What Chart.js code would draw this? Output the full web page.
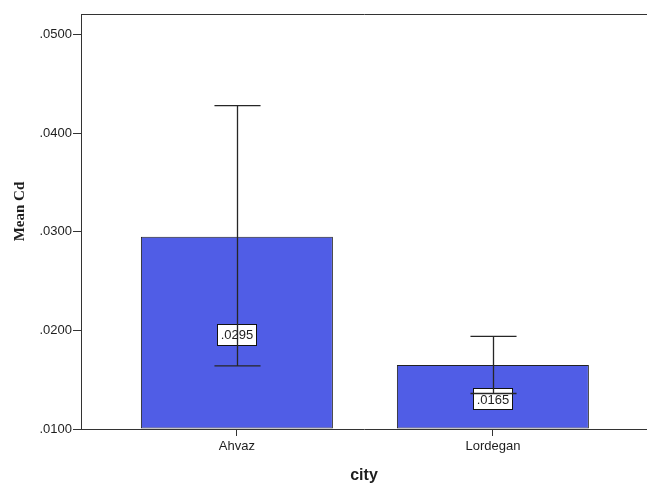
<!DOCTYPE html>
<html>
<head>
<meta charset="utf-8">
<script src="https://cdn.jsdelivr.net/npm/chart.js@4/dist/chart.umd.min.js"></script>
<style>
  html, body { margin: 0; padding: 0; background: #ffffff; }
  #wrap { width: 647px; height: 483px; position: relative; }
</style>
</head>
<body>
<div id="wrap"><canvas id="chart"></canvas></div>
<script>
// Mean Cd by city, with 95% CI error bars
const cities = ['Ahvaz', 'Lordegan'];
const meanCd = [0.0295, 0.0165];
const ciLow = [0.0164, 0.0136];
const ciHigh = [0.0428, 0.0194];
const yTickValues = [0.0100, 0.0200, 0.0300, 0.0400, 0.0500];
const yMin = 0.0100;
const yMax = 0.0521;

const axisColor = '#333333';
const textColor = '#1e1e1e';
const sansFont = '"Liberation Sans", Arial, sans-serif';

const fmt = v => v.toFixed(4).replace(/^0/, '');

// value labels in boxes at mid-bar, then error bars on top
const barDecor = {
  id: 'barDecor',
  afterDatasetsDraw(chart) {
    const ctx = chart.ctx;
    const yScale = chart.scales.y;
    const meta = chart.getDatasetMeta(0);
    const basePx = yScale.getPixelForValue(yScale.min);
    ctx.save();
    ctx.font = '13px ' + sansFont;
    ctx.textAlign = 'center';
    ctx.textBaseline = 'middle';
    meta.data.forEach((bar, i) => {
      const txt = fmt(meanCd[i]);
      const tw = ctx.measureText(txt).width;
      const cx = bar.x;
      const cy = (yScale.getPixelForValue(meanCd[i]) + basePx) / 2 + 2;
      const w = Math.round(tw + 6), h = 21;
      const bx = Math.round(cx - w / 2) + 0.5, by = Math.round(cy - h / 2) + 0.5;
      ctx.fillStyle = '#ffffff';
      ctx.fillRect(bx, by, w, h);
      ctx.strokeStyle = '#111111';
      ctx.lineWidth = 1;
      ctx.strokeRect(bx, by, w, h);
      ctx.fillStyle = textColor;
      ctx.fillText(txt, cx, cy + 1);
    });
    ctx.strokeStyle = '#262626';
    ctx.lineWidth = 1.3;
    meta.data.forEach((bar, i) => {
      const x = Math.round(bar.x) + 0.5;
      const hi = yScale.getPixelForValue(ciHigh[i]);
      const lo = yScale.getPixelForValue(ciLow[i]);
      const cap = bar.width * 0.12;
      ctx.beginPath();
      ctx.moveTo(x, hi); ctx.lineTo(x, lo);
      ctx.moveTo(x - cap, hi); ctx.lineTo(x + cap, hi);
      ctx.moveTo(x - cap, lo); ctx.lineTo(x + cap, lo);
      ctx.stroke();
    });
    ctx.restore();
  }
};

// rotated serif axis title for the value axis
const yTitle = {
  id: 'yTitle',
  afterDraw(chart) {
    const ctx = chart.ctx;
    const a = chart.chartArea;
    ctx.save();
    ctx.translate(20, (a.top + a.bottom) / 2 - 10);
    ctx.rotate(-Math.PI / 2);
    ctx.font = 'bold 15px "Liberation Serif", "Times New Roman", serif';
    ctx.fillStyle = textColor;
    ctx.textAlign = 'center';
    ctx.textBaseline = 'middle';
    ctx.fillText('Mean Cd', 0, 0);
    ctx.restore();
  }
};

new Chart(document.getElementById('chart'), {
  type: 'bar',
  data: {
    datasets: [{
      data: cities.map((c, i) => ({ x: i, y: meanCd[i] })),
      base: yMin,
      backgroundColor: '#505de6',
      borderColor: '#222222',
      borderWidth: 1,
      borderSkipped: false,
      barPercentage: 0.75,
      categoryPercentage: 1.0
    }]
  },
  options: {
    responsive: true,
    maintainAspectRatio: false,
    animation: false,
    events: [],
    layout: { padding: 0 },
    plugins: {
      legend: { display: false },
      tooltip: { enabled: false }
    },
    scales: {
      x: {
        type: 'linear',
        position: 'bottom',
        offset: false,
        min: -0.609,
        max: 1.602,
        afterBuildTicks: s => { s.ticks = cities.map((c, i) => ({ value: i })); },
        afterFit: s => { s.height = 54; },
        ticks: {
          callback: v => cities[v] ?? '',
          color: textColor,
          font: { family: sansFont, size: 13 },
          padding: 3,
          maxRotation: 0,
          autoSkip: false
        },
        grid: { offset: false, drawOnChartArea: false, tickLength: 7, color: axisColor, lineWidth: 1 },
        border: { color: axisColor, width: 1 },
        title: {
          display: true,
          text: 'city',
          color: textColor,
          font: { family: sansFont, size: 16, weight: 'bold' },
          padding: { top: 0, bottom: -2 }
        }
      },
      xTop: {
        type: 'linear',
        position: 'top',
        offset: false,
        afterFit: s => { s.height = 14; },
        ticks: { display: false },
        grid: { display: false },
        border: { color: axisColor, width: 1 }
      },
      y: {
        min: yMin,
        max: yMax,
        afterBuildTicks: s => { s.ticks = yTickValues.map(v => ({ value: v })); },
        afterFit: s => { s.width = 81; },
        ticks: {
          callback: v => fmt(v),
          color: textColor,
          font: { family: sansFont, size: 13 },
          padding: 1
        },
        grid: { drawOnChartArea: false, tickLength: 8, color: axisColor, lineWidth: 1 },
        border: { color: axisColor, width: 1 }
      }
    }
  },
  plugins: [barDecor, yTitle]
});
</script>
</body>
</html>
